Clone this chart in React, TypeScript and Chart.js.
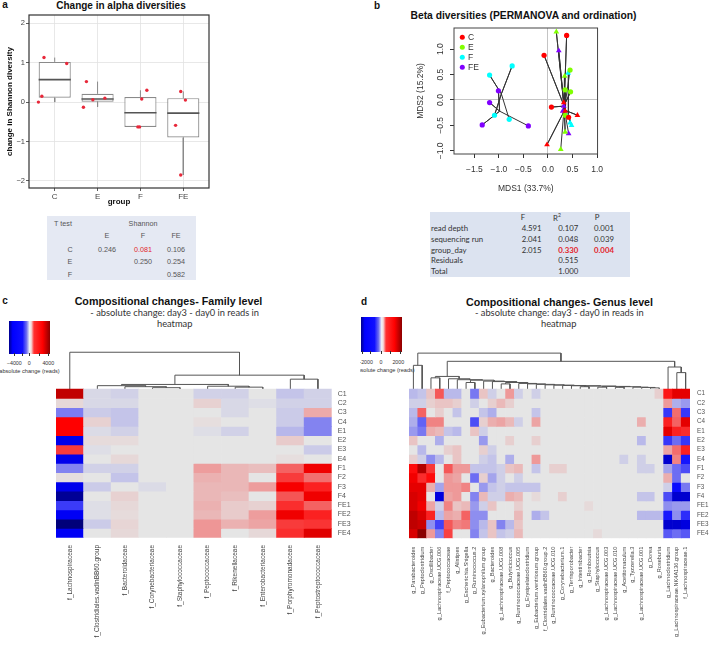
import React, { useEffect, useRef } from 'react';
import { Chart, registerables } from 'chart.js';

Chart.register(...registerables);

const SANS = '"Liberation Sans", Arial, Helvetica, sans-serif';
const CAL = 'Lato, "Open Sans", "Liberation Sans", sans-serif';
Chart.defaults.font.family = SANS;

/* ---------------- a: change in Shannon diversity ---------------- */
const groupsA = ['C', 'E', 'F', 'FE'];
const q1A = [0.11, 0.01, -0.63, -0.9];
const medA = [0.57, 0.08, -0.27, -0.28];
const q3A = [1.02, 0.21, 0.13, 0.1];
const loA = [0.0, -0.12, -0.63, -1.85];
const hiA = [1.13, 0.52, 0.3, 0.27];
const shannonC = [1.13, 0.15, 0.98, 0.0];
const shannonE = [0.52, -0.13, 0.06, 0.1];
const shannonF = [0.08, 0.3, -0.63, -0.63];
const shannonFE = [0.27, 0.05, -0.59, -1.85];
const jitterC = [0.75, 0.7, 1.28, 0.62];
const jitterE = [1.74, 1.67, 1.89, 2.17];
const jitterF = [3.03, 3.15, 2.94, 2.98];
const jitterFE = [3.94, 4.05, 3.82, 3.94];
const yTicksA = [-2, -1, 0, 1, 2];

/* t test table */
const ttestCols = ['E', 'F', 'FE'];
const ttestRows = ['C', 'E', 'F'];
const ttestC = ['0.246', '0.081', '0.106'];
const ttestE = ['', '0.250', '0.254'];
const ttestF = ['', '', '0.582'];

/* ---------------- b: ordination ---------------- */
const betaGroups = ['C', 'E', 'F', 'FE'];
const betaColors = ['#FF0000', '#80FF00', '#00FFFF', '#8000FF'];
const day3X = [[0.38, -0.08, 0.07, 0.42], [0.35, 0.46, 0.35, 0.45], [-0.73, -1.19, -1.09, -0.79], [-1.01, -1.19, -1.34, -0.4]];
const day3Y = [[1.27, 0.88, -0.14, -0.34], [0.2, 0.16, -0.3, 0.59], [0.67, 0.49, -0.3, -0.38], [0.18, -0.05, -0.49, -0.51]];
const day0X = [[-0.02, 0.6, 0.35, 0.32], [0.17, 0.34, 0.35, 0.26], [0.41, 0.45, 0.48, 0.37], [0.22, 0.32, 0.3, 0.42]];
const day0Y = [[-0.88, -0.3, -0.22, -0.05], [1.34, 0.47, -0.63, -0.97], [0.53, -0.45, -0.5, -0.28], [0.97, -0.12, -0.22, -0.66]];
const cent3X = [0.33, 0.36, -0.95, -0.985];
const cent3Y = [-0.12, -0.05, 0.12, -0.22];
const cent0X = [0.34, 0.33, 0.42, 0.33];
const cent0Y = [-0.2, -0.15, -0.3, -0.15];
const xTicksB = [-1.5, -1.0, -0.5, 0.0, 0.5, 1.0];
const yTicksB = [-1.0, -0.5, 0.0, 0.5, 1.0];

/* PERMANOVA table */
const permTerms = ['read depth', 'sequencing run', 'group_day', 'Residuals', 'Total'];
const permF = ['4.591', '2.041', '2.015', '', ''];
const permR2 = ['0.107', '0.048', '0.330', '0.515', '1.000'];
const permP = ['0.001', '0.039', '0.004', '', ''];
const permRed = [false, false, true, false, false];

/* ---------------- c / d heatmaps ---------------- */
const rowsHM = ['C1', 'C2', 'C3', 'C4', 'E1', 'E2', 'E3', 'E4', 'F1', 'F2', 'F3', 'F4', 'FE1', 'FE2', 'FE3', 'FE4'];

const familyCols = ['f_Lachnospiraceae', 'f_Clostridiales.vadinBB60.group', 'f_Bacteroidaceae', 'f_Corynebacteriaceae',
  'f_Staphylococcaceae', 'f_Peptococcaceae', 'f_Rikenellaceae', 'f_Enterobacteriaceae', 'f_Porphyromonadaceae', 'f_Peptostreptococcaceae'];
const familyVals = [
  [4300, -200, -300, 0, 0, -300, -300, 0, -500, -300],
  [200, -200, -200, 0, 0, 300, -200, -100, -300, -300],
  [-1600, -400, -500, 0, 0, 0, -200, 0, -400, 900],
  [3500, 300, -500, 0, 0, 100, 0, 0, -400, -1500],
  [3500, -150, -300, 0, 0, -100, -300, 0, -700, -1500],
  [-3700, 150, 150, 0, 0, 0, 0, 0, 400, 0],
  [2600, -100, 0, 0, 0, 0, 0, 0, 0, -400],
  [-3700, 0, 200, 0, 0, 0, 0, 0, 100, 0],
  [-1500, -300, -300, 0, 0, 1100, 700, 600, 2000, 3700],
  [100, 0, -500, 0, 0, 800, 700, 0, 2600, 1800],
  [-3700, -400, 0, -150, 0, 700, 700, 1100, 3600, 3000],
  [-4600, 0, 300, 0, 0, 700, 600, 0, 2200, 3700],
  [-2600, -100, 200, 0, 0, 800, 400, 300, 2800, 2000],
  [-3600, -100, 150, 0, 0, 700, 400, 1100, 3700, 3000],
  [-4900, -400, 250, 0, 0, 1200, 800, 1000, 2600, 2700],
  [-3600, 0, 200, 0, 0, 1200, 0, 200, 2800, 3900],
];
/* merges: [left, right, height]; leaves 0..n-1, merge k creates node n+k */
const familyMerges = [
  [3, 4, 0.16], [2, 10, 0.27], [1, 11, 0.38], [6, 7, 0.22], [5, 13, 0.32],
  [12, 14, 0.51], [8, 9, 1.08], [15, 16, 1.51], [0, 17, 3.98],
];

const genusCols = ['g_Parabacteroides', 'g_Peptoclostridium', 'g_Oscillibacter', 'g_Lachnospiraceae.UCG.006', 'f_Peptococcaceae',
  'g_Alistipes', 'g_Escherichia.Shigella', 'g_Ruminococcus.2', 'g_Eubacterium.xylanophilum.group', 'g_Bacteroides',
  'g_Lachnospiraceae.UCG.008', 'g_Butyricicoccus', 'g_Ruminococcaceae.UCG.005', 'g_Erysipelatoclostridium',
  'g_Eubacterium.ventriosum.group', 'f_Clostridiales.vadinBB60.group.2', 'g_Ruminococcaceae.UCG.010', 'g_Corynebacterium.1',
  'g_Terrisporobacter', 'g_Intestinibacter', 'g_Romboutsia', 'g_Staphylococcus', 'g_Lachnospiraceae.UCG.003',
  'g_Lachnospiraceae.UCG.010', 'g_Acetitomaculum', 'g_Tyzzerella.3', 'g_Lachnospiraceae.UCG.001', 'g_Dorea', 'g_Roseburia',
  'g_Lachnoclostridium', 'g_Lachnospiraceae.NK4A136.group', 'f_Lachnospiraceae.1'];
const genusVals = [
  [-400, -300, 300, 1300, -400, -400, 0, -1000, 300, -200, 0, 700, -200, 0, -200, 0, 0, 0, 0, 0, 0, 0, 0, 0, 0, 0, 0, 0, 200, 1900, 2300, 2300],
  [-200, -200, 200, 300, 300, 200, 0, -200, 0, 200, 400, 200, 0, 0, 0, 0, 0, 0, 0, 0, 0, 0, 0, 0, 0, 0, 0, 0, 0, 700, -500, -700],
  [-400, 1200, 0, 200, 0, -300, 0, 0, -300, -500, 0, 0, 0, 0, -300, 0, 0, 0, 0, 0, 0, 0, 0, 0, 0, 0, 0, 0, 0, -1600, 1100, -1600],
  [-500, -1200, 900, 900, 0, 0, 0, -1400, 200, 500, 600, 400, -200, 0, 600, 0, 0, 0, 0, 0, 0, 0, 0, 0, 0, 0, 500, 0, 0, 1800, 1200, 2300],
  [-700, -1000, 500, 400, -300, -400, 0, 300, -200, 0, 0, 0, 0, 0, 0, 0, 0, 0, 0, 0, 0, 0, 0, 0, 0, 0, 0, 0, 0, 2300, 1800, 1700],
  [300, 0, 0, -500, 0, 0, 0, 0, -700, 0, 0, 200, 0, 0, 200, 0, 0, 0, 0, 0, 0, 0, 0, 0, 0, 0, -400, 0, 0, -1600, -1100, -1600],
  [0, -400, 0, 0, 200, 300, 0, 0, 200, -200, 0, 0, 0, 0, 0, 0, 0, 0, 0, 0, 0, 0, 0, 0, 0, 0, 0, 0, 0, 600, 1100, 1800],
  [200, -200, -800, -400, 0, 300, 0, 0, -200, -300, 0, -500, 0, 0, 700, 0, 0, 0, 0, 0, 0, 0, 0, 0, -200, 0, -200, 0, 0, -2400, 900, -1900],
  [2000, 2700, 1600, 0, 1300, 700, 700, -300, -300, -300, -200, 300, 400, 0, -300, 0, 200, 200, 0, 0, 0, 0, 0, 0, 0, 0, -200, -200, 0, -600, -1100, -1400],
  [2200, 1700, 2000, 0, 700, 600, 0, -1100, 200, -600, -200, 0, -200, 0, 0, 0, 0, 0, 0, 0, 0, 0, 0, 0, 0, 0, 0, 0, 0, 500, -1100, 0],
  [2300, 2300, 500, -600, 700, 700, 900, 0, -700, -300, -200, -300, -300, -300, -300, 0, 0, 0, 0, 0, 0, 0, 0, 0, 0, 0, 0, 0, 0, -200, -2000, -1000],
  [2400, 2300, 0, -2300, 600, 700, 0, -900, 400, -200, -200, 500, 400, 0, 100, 0, 0, 200, 0, 0, 0, 0, 0, 0, 0, 0, -300, -300, 0, -1400, -2400, -2400],
  [2400, 2200, 600, -200, 900, 300, 400, -700, -200, 300, 0, 0, 200, 0, 0, 0, 0, 0, 0, 0, 100, 0, 0, 0, 0, 0, 0, 0, 0, -800, -700, -700],
  [2600, 2400, 1800, -400, 600, 500, 1200, -800, -800, 0, 0, 0, 400, 0, -500, -300, 0, 0, 0, 0, 0, 0, 0, 0, 0, 0, -400, -400, -400, -1900, -800, -1700],
  [2600, 2500, -800, -1500, 1300, 900, 1000, -800, -400, 300, -900, -400, 300, 0, 0, 0, 0, 0, 0, 0, 0, 0, 0, 0, 0, 0, 0, 0, 0, -2400, -2400, -2300],
  [2400, 3000, 700, -900, 1500, 0, 0, -900, -300, 300, -300, -200, 400, 0, 0, 0, 0, 0, 0, 0, 0, 100, 0, 0, 0, 0, 0, 0, 0, -1300, -1100, -1300],
];
const genusMerges = [
  [0, 1, 2.54], [30, 31, 1.76], [29, 33, 2.36], [27, 28, 0.12], [26, 35, 0.17], [25, 36, 0.2],
  [23, 24, 0.18], [38, 37, 0.25], [21, 22, 0.2], [40, 39, 0.28], [19, 20, 0.25], [42, 41, 0.32],
  [18, 43, 0.35], [17, 44, 0.38], [16, 45, 0.42], [15, 46, 0.45], [14, 47, 0.5], [13, 48, 0.55],
  [12, 49, 0.6], [10, 11, 0.55], [51, 50, 0.7], [9, 52, 0.8], [8, 53, 0.85], [6, 7, 0.7],
  [55, 54, 0.95], [5, 56, 1.0], [4, 57, 1.1], [2, 3, 1.2], [59, 58, 1.35], [60, 34, 2.97], [32, 61, 3.85],
];

/* ---------------- helpers ---------------- */
const fmtMinus = (v: number, d = 0) => (v < 0 ? '\u2212' : '') + Math.abs(v).toFixed(d);

const HEAT_STOPS = [
  [-1, 0, 0, 112],
  [-0.7, 0, 0, 255],
  [0, 229, 229, 229],
  [0.7, 255, 0, 0],
  [1, 139, 0, 0],
];
function heatColor(v: number, vmax: number) {
  const t = Math.max(-1, Math.min(1, v / vmax));
  for (let k = 1; k < HEAT_STOPS.length; k++) {
    const a = HEAT_STOPS[k - 1];
    const b = HEAT_STOPS[k];
    if (t <= b[0]) {
      const f = (t - a[0]) / (b[0] - a[0]);
      const c = [1, 2, 3].map((i) => Math.round(a[i] + (b[i] - a[i]) * f));
      return `rgb(${c[0]},${c[1]},${c[2]})`;
    }
  }
  return 'rgb(139,0,0)';
}

function dendroPolys(n: number, merges: number[][]) {
  const xs: number[] = [];
  const hs: number[] = [];
  for (let i = 0; i < n; i++) {
    xs.push(i);
    hs.push(0);
  }
  const polys: { x: number; y: number }[][] = [];
  merges.forEach(([a, b, h]) => {
    polys.push([
      { x: xs[a], y: -hs[a] },
      { x: xs[a], y: -h },
      { x: xs[b], y: -h },
      { x: xs[b], y: -hs[b] },
    ]);
    xs.push((xs[a] + xs[b]) / 2);
    hs.push(h);
  });
  return polys;
}

const framePlugin = (color: string, width: number) => ({
  id: 'frame',
  afterDatasetsDraw(chart: any) {
    const { ctx, chartArea: a } = chart;
    ctx.save();
    ctx.strokeStyle = color;
    ctx.lineWidth = width;
    ctx.strokeRect(a.left, a.top, a.right - a.left, a.bottom - a.top);
    ctx.restore();
  },
});

const T = ({ x, y, s, w = 'normal', f = SANS, c = '#222', a = 'center', children }: any) => (
  <div
    style={{
      position: 'absolute', left: x, top: y,
      transform: `translate(${a === 'center' ? '-50%' : a === 'right' ? '-100%' : '0'}, -50%)`,
      fontSize: s, fontWeight: w, fontFamily: f, color: c, whiteSpace: 'nowrap', lineHeight: 1,
    }}
  >
    {children}
  </div>
);

/* ---------------- panel a ---------------- */
function PanelA() {
  const ref = useRef<HTMLCanvasElement>(null);
  useEffect(() => {
    const BOXW = 0.75;
    const ptsVals = [shannonC, shannonE, shannonF, shannonFE];
    const ptsX = [jitterC, jitterE, jitterF, jitterFE];
    const datasets: any[] = [];
    datasets.push({
      type: 'scatter',
      data: ptsVals.flatMap((vals, g) => vals.map((v, k) => ({ x: ptsX[g][k], y: v }))),
      backgroundColor: '#E8283A', borderWidth: 0, pointRadius: 1.7, order: 0,
    });
    groupsA.forEach((_, i) => {
      datasets.push({
        type: 'scatter', showLine: true,
        data: [{ x: i + 1 - BOXW / 2, y: medA[i] }, { x: i + 1 + BOXW / 2, y: medA[i] }],
        borderColor: '#555', borderWidth: 1.6, pointRadius: 0, order: 1,
      });
      datasets.push({
        type: 'scatter', showLine: true,
        data: [{ x: i + 1, y: q3A[i] }, { x: i + 1, y: hiA[i] }],
        borderColor: '#8a8a8a', borderWidth: 1, pointRadius: 0, order: 3,
      });
      datasets.push({
        type: 'scatter', showLine: true,
        data: [{ x: i + 1, y: q1A[i] }, { x: i + 1, y: loA[i] }],
        borderColor: '#8a8a8a', borderWidth: 1, pointRadius: 0, order: 3,
      });
    });
    datasets.push({
      type: 'bar',
      data: groupsA.map((_, i) => ({ x: i + 1, y: [q1A[i], q3A[i]] })),
      backgroundColor: '#ffffff', borderColor: '#8a8a8a', borderWidth: 1.2, borderSkipped: false,
      barPercentage: BOXW, categoryPercentage: 1, order: 2,
    });
    const grid = { color: '#E2E2E2', lineWidth: 0.8, drawTicks: true, tickLength: 3, tickColor: '#333' };
    const chart = new Chart(ref.current as HTMLCanvasElement, {
      type: 'bar',
      data: { datasets },
      plugins: [framePlugin('#333', 1.2)],
      options: {
        responsive: false, animation: false, events: [], devicePixelRatio: 1,
        layout: { padding: { top: 15, right: 6, left: 0, bottom: 0 } },
        plugins: { legend: { display: false }, tooltip: { enabled: false } },
        scales: {
          x: {
            type: 'linear', min: 0.4, max: 4.6, offset: false,
            afterBuildTicks: (s: any) => { s.ticks = groupsA.map((_, i) => ({ value: i + 1 })); },
            afterFit: (s: any) => { s.height = 27; },
            grid: { ...grid, offset: false }, border: { display: false },
            ticks: { autoSkip: false, maxRotation: 0, padding: 1, color: '#444', font: { size: 8 }, callback: (v: any) => groupsA[Math.round(v) - 1] },
            title: { display: true, text: 'group', color: '#111', font: { size: 8, weight: 'bold' }, padding: { top: 0, bottom: 8 } },
          },
          y: {
            type: 'linear', min: -2.18, max: 2.21,
            afterBuildTicks: (s: any) => { s.ticks = yTicksA.map((v) => ({ value: v })); },
            afterFit: (s: any) => { s.width = 29; },
            grid, border: { display: false },
            ticks: { padding: 1, color: '#444', font: { size: 7.5 }, callback: (v: any) => fmtMinus(v) },
            title: { display: true, text: 'change in Shannon diversity', color: '#111', font: { size: 8, weight: 'bold' }, padding: { top: 5, bottom: 0 } },
          },
        },
      } as any,
    });
    return () => chart.destroy();
  }, []);
  return <canvas ref={ref} width={215} height={215} style={{ position: 'absolute', left: 0, top: 0, width: 215, height: 215 }} />;
}

/* ---------------- panel b ---------------- */
function PanelB() {
  const ref = useRef<HTMLCanvasElement>(null);
  useEffect(() => {
    const datasets: any[] = [];
    betaGroups.forEach((_, g) => {
      const col = betaColors[g];
      const p3 = day3X[g].map((x, k) => ({ x, y: day3Y[g][k] }));
      const p0 = day0X[g].map((x, k) => ({ x, y: day0Y[g][k] }));
      const c3 = { x: cent3X[g], y: cent3Y[g] };
      const c0 = { x: cent0X[g], y: cent0Y[g] };
      datasets.push({ type: 'scatter', data: p3, pointStyle: 'circle', pointRadius: 2.6, backgroundColor: col, borderColor: col, borderWidth: 0, order: 0 });
      datasets.push({ type: 'scatter', data: p0, pointStyle: 'triangle', pointRadius: 3.3, backgroundColor: col, borderColor: col, borderWidth: 0, order: 0 });
      datasets.push({ type: 'scatter', showLine: true, data: p3.flatMap((p) => [c3, p]), borderColor: '#333', borderWidth: 1, pointRadius: 0, order: 1 });
      datasets.push({ type: 'scatter', showLine: true, data: p0.flatMap((p) => [c0, p]), borderColor: '#333', borderWidth: 1, pointRadius: 0, order: 1 });
    });
    const zeroGrid = {
      color: (c: any) => (c.tick && c.tick.value === 0 ? '#C4C4C4' : 'rgba(0,0,0,0)'),
      lineWidth: 1, drawTicks: true, tickLength: 4, tickColor: '#333',
    };
    const extras = {
      id: 'extrasB',
      afterDraw(chart: any) {
        const { ctx, chartArea: ca } = chart;
        ctx.save();
        ctx.font = `8.5px ${SANS}`;
        ctx.fillStyle = '#333';
        ctx.textAlign = 'center';
        ctx.textBaseline = 'middle';
        chart.scales.y.ticks.forEach((t: any) => {
          const py = chart.scales.y.getPixelForValue(t.value);
          ctx.save();
          ctx.translate(ca.left - 13.3, py);
          ctx.rotate(-Math.PI / 2);
          ctx.fillText(fmtMinus(t.value, 1), 0, 0);
          ctx.restore();
        });
        ctx.textAlign = 'left';
        betaGroups.forEach((g, i) => {
          const cy = ca.top + 9.3 + i * 10;
          ctx.fillStyle = betaColors[i];
          ctx.beginPath();
          ctx.arc(ca.left + 8.3, cy, 2.5, 0, Math.PI * 2);
          ctx.fill();
          ctx.fillStyle = '#333';
          ctx.fillText(g, ca.left + 14, cy + 0.5);
        });
        ctx.restore();
      },
    };
    const chart = new Chart(ref.current as HTMLCanvasElement, {
      type: 'scatter',
      data: { datasets },
      plugins: [framePlugin('#444', 1), extras],
      options: {
        responsive: false, animation: false, events: [], devicePixelRatio: 1,
        layout: { padding: { top: 8, right: 8.3, left: 0, bottom: 0 } },
        plugins: { legend: { display: false }, tooltip: { enabled: false } },
        scales: {
          x: {
            type: 'linear', min: -1.915, max: 1.01,
            afterBuildTicks: (s: any) => { s.ticks = xTicksB.map((v) => ({ value: v })); },
            afterFit: (s: any) => { s.height = 46; },
            grid: zeroGrid, border: { display: false },
            ticks: { autoSkip: false, maxRotation: 0, padding: 7, color: '#333', font: { size: 8.5 }, callback: (v: any) => fmtMinus(v, 1) },
            title: { display: true, text: 'MDS1 (33.7%)', color: '#333', font: { size: 8.5 }, padding: { top: 0, bottom: 6 } },
          },
          y: {
            type: 'linear', min: -1.063, max: 1.417,
            afterBuildTicks: (s: any) => { s.ticks = yTicksB.map((v) => ({ value: v })); },
            afterFit: (s: any) => { s.width = 44; },
            grid: zeroGrid, border: { display: false },
            ticks: { display: false },
            title: { display: true, text: 'MDS2 (15.2%)', color: '#333', font: { size: 8.5 }, padding: { top: 5.5, bottom: 0 } },
          },
        },
      } as any,
    });
    return () => chart.destroy();
  }, []);
  return <canvas ref={ref} width={200} height={180} style={{ position: 'absolute', left: 410, top: 20, width: 200, height: 180 }} />;
}

/* ---------------- heatmaps ---------------- */
function Heatmap({ cols, vals, merges, vmax, box, ext, colFont, rowFont, colPad, rowPad }: any) {
  const ref = useRef<HTMLCanvasElement>(null);
  useEffect(() => {
    const { cl, ct, cw, ch, hl, hr, ht, hb } = box;
    const rowH = (hb - ht) / rowsHM.length;
    const chartTop = ht - ext * rowH;
    const datasets: any[] = [];
    vals.forEach((row: number[], i: number) => {
      datasets.push({
        type: 'bar',
        data: row.map((_, j) => ({ x: j, y: [i, i + 1] })),
        backgroundColor: row.map((v) => heatColor(v, vmax)),
        borderWidth: 0, grouped: false, barPercentage: 1, categoryPercentage: 1,
      });
    });
    dendroPolys(cols.length, merges).forEach((poly) => {
      datasets.push({ type: 'scatter', showLine: true, data: poly, borderColor: '#555', borderWidth: 1, pointRadius: 0 });
    });
    const chart = new Chart(ref.current as HTMLCanvasElement, {
      type: 'bar',
      data: { datasets },
      options: {
        responsive: false, animation: false, events: [], devicePixelRatio: 1,
        layout: { padding: { left: hl - cl, top: chartTop - ct, right: 0, bottom: 0 } },
        plugins: { legend: { display: false }, tooltip: { enabled: false } },
        scales: {
          x: {
            type: 'linear', min: -0.5, max: cols.length - 0.5, offset: false,
            afterBuildTicks: (s: any) => { s.ticks = cols.map((_: any, j: number) => ({ value: j })); },
            afterFit: (s: any) => { s.height = ct + ch - hb; },
            grid: { display: false, drawTicks: false, offset: false }, border: { display: false },
            ticks: { autoSkip: false, minRotation: 90, maxRotation: 90, padding: colPad, color: '#444', font: { size: colFont }, callback: (v: any) => cols[Math.round(v)] },
          },
          y: {
            type: 'linear', position: 'right', reverse: true, min: -ext, max: rowsHM.length,
            afterBuildTicks: (s: any) => { s.ticks = rowsHM.map((_, i) => ({ value: i + 0.5 })); },
            afterFit: (s: any) => { s.width = cl + cw - hr; },
            grid: { display: false, drawTicks: false }, border: { display: false },
            ticks: { autoSkip: false, padding: rowPad, color: '#555', font: { size: rowFont }, callback: (v: any) => rowsHM[Math.floor(v)] },
          },
        },
      } as any,
    });
    return () => chart.destroy();
  }, []);
  return <canvas ref={ref} width={box.cw} height={box.ch} style={{ position: 'absolute', left: box.cl, top: box.ct, width: box.cw, height: box.ch }} />;
}

const KEY_GRADIENT = 'linear-gradient(to right, #00008B 0%, #0000FF 9%, #1010FF 33%, #7070F0 43%, #EDEDF5 50%, #F5E0E0 54%, #FF3030 61%, #FF0000 82%, #8B0000 100%)';

function ColorKey({ left, top, w, h, ticks, labels, labelY, titleX, titleY, clipLeft }: any) {
  return (
    <div style={{ position: 'absolute', left: clipLeft, top: top - 2, width: 80, height: 62, overflow: 'hidden' }}>
      <div style={{ position: 'absolute', left: left - clipLeft, top: 2, width: w, height: h, background: KEY_GRADIENT }} />
      {ticks.map((tx: number, i: number) => (
        <div key={i} style={{ position: 'absolute', left: tx - clipLeft, top: h + 1, width: 0.8, height: 3, background: '#333' }} />
      ))}
      {labels.map((l: any, i: number) => (
        <T key={i} x={l[0] - clipLeft} y={labelY - top + 2} s={5.3} c="#333">{l[1]}</T>
      ))}
      <T x={titleX - clipLeft} y={titleY - top + 2} s={5.6} c="#333">absolute change (reads)</T>
    </div>
  );
}

export default function App() {
  const ttVals = [ttestC, ttestE, ttestF];
  const ttX = [107, 143, 176];
  const ttRowY = [250, 262, 275];
  const permY = [229.3, 240, 250.7, 261.4, 272.1];
  return (
    <div style={{ position: 'absolute', left: 0, top: 0, width: 709, height: 652, background: '#fff', overflow: 'hidden', fontFamily: SANS }}>
      {/* panel a */}
      <T x={5} y={5} s={10} w="bold" c="#111">a</T>
      <T x={121} y={5.5} s={10} w="bold" c="#111">Change in alpha diversities</T>
      <PanelA />
      <div style={{ position: 'absolute', left: 47, top: 216, width: 149, height: 64, background: '#E5E9F3' }} />
      <T x={63} y={224} s={7.2} c="#555">T test</T>
      <T x={143} y={224} s={7.2} c="#555">Shannon</T>
      {ttestCols.map((c, i) => <T key={c} x={ttX[i]} y={236} s={7.2} c="#555">{c}</T>)}
      {ttestRows.map((r, ri) => (
        <React.Fragment key={r}>
          <T x={70} y={ttRowY[ri]} s={7.2} c="#555">{r}</T>
          {ttVals[ri].map((v, ci) => v ? (
            <T key={ci} x={ttX[ci]} y={ttRowY[ri]} s={7.2} c={v === '0.081' ? '#E3242B' : '#555'}>{v}</T>
          ) : null)}
        </React.Fragment>
      ))}

      {/* panel b */}
      <T x={377} y={6} s={10} w="bold" c="#111">b</T>
      <T x={523.5} y={15.7} s={10.3} w="bold" c="#111">Beta diversities (PERMANOVA and ordination)</T>
      <PanelB />
      <div style={{ position: 'absolute', left: 430, top: 211.5, width: 200, height: 65.5, background: '#DCE3F0' }} />
      <T x={523} y={217.5} s={7.8} f={CAL} c="#333">F</T>
      <T x={557} y={217.5} s={7.8} f={CAL} c="#333">R<sup style={{ fontSize: 5 }}>2</sup></T>
      <T x={597} y={217.5} s={7.8} f={CAL} c="#333">P</T>
      {permTerms.map((t, i) => (
        <React.Fragment key={t}>
          <T x={431} y={permY[i]} s={7.8} f={CAL} c="#333" a="left">{t}</T>
          <T x={521.7} y={permY[i]} s={7.8} f={CAL} c="#333" a="left">{permF[i]}</T>
          <T x={558.3} y={permY[i]} s={7.8} f={CAL} w={permRed[i] ? 'bold' : 'normal'} c={permRed[i] ? '#E3242B' : '#333'} a="left">{permR2[i]}</T>
          <T x={594} y={permY[i]} s={7.8} f={CAL} w={permRed[i] ? 'bold' : 'normal'} c={permRed[i] ? '#E3242B' : '#333'} a="left">{permP[i]}</T>
        </React.Fragment>
      ))}

      {/* panel c */}
      <T x={5} y={301} s={10} w="bold" c="#111">c</T>
      <T x={168.5} y={301} s={10.7} w="bold" c="#111">Compositional changes- Family level</T>
      <T x={174.7} y={313.3} s={9.3} f={CAL} c="#333">- absolute change: day3 - day0 in reads in</T>
      <T x={174.7} y={324} s={9.3} f={CAL} c="#333">heatmap</T>
      <ColorKey left={9} top={321} w={41} h={33} clipLeft={0}
        ticks={[14.3, 21.7, 29.3, 39.3, 48.3]}
        labels={[[14.3, '\u22124000'], [29.3, '0'], [48.3, '4000']]}
        labelY={364} titleX={29.5} titleY={372} />
      <Heatmap cols={familyCols} vals={familyVals} merges={familyMerges} vmax={5000} ext={4.2}
        box={{ cl: 0, ct: 340, cw: 358, ch: 312, hl: 56, hr: 331.7, ht: 389, hb: 537.7 }}
        colFont={6.5} rowFont={7} colPad={7.3} rowPad={6} />

      {/* panel d */}
      <T x={364} y={302} s={10} w="bold" c="#111">d</T>
      <T x={559.5} y={302.3} s={10.7} w="bold" c="#111">Compositional changes- Genus level</T>
      <T x={559.3} y={313.3} s={9.3} f={CAL} c="#333">- absolute change: day3 - day0 in reads in</T>
      <T x={558.7} y={324} s={9.3} f={CAL} c="#333">heatmap</T>
      <ColorKey left={361} top={317.3} w={41} h={35} clipLeft={360}
        ticks={[361.7, 370, 381, 390, 400]}
        labels={[[365.5, '\u22122000'], [381, '0'], [398.3, '2000']]}
        labelY={363.3} titleX={384.5} titleY={371} />
      <Heatmap cols={genusCols} vals={genusVals} merges={genusMerges} vmax={3000} ext={4.1}
        box={{ cl: 360, ct: 340, cw: 349, ch: 312, hl: 409, hr: 690, ht: 387.3, hb: 538.3 }}
        colFont={5.6} rowFont={6.3} colPad={8.4} rowPad={7} />
    </div>
  );
}
